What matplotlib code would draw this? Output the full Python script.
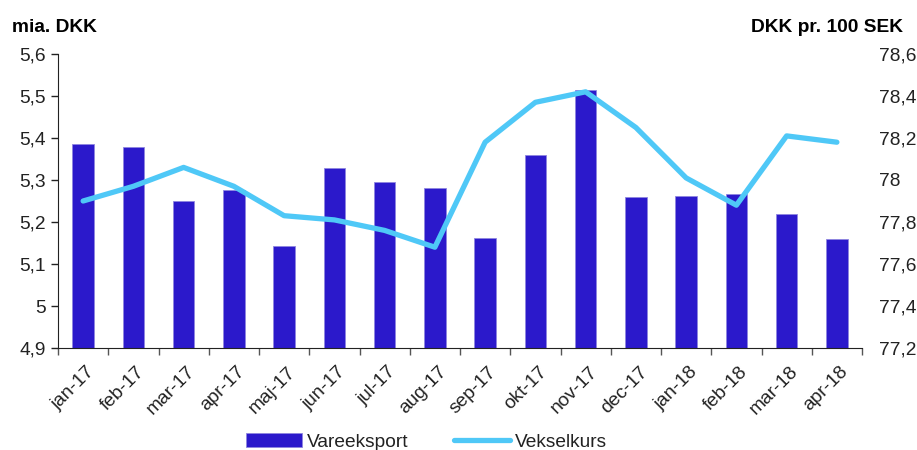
import matplotlib
matplotlib.use("Agg")
import matplotlib.pyplot as plt
from matplotlib.ticker import FixedLocator, NullFormatter
import matplotlib.transforms as mtransforms
import numpy as np

plt.rcParams['font.family'] = ['Liberation Sans', 'DejaVu Sans']

months = ["jan-17", "feb-17", "mar-17", "apr-17", "maj-17", "jun-17", "jul-17", "aug-17",
          "sep-17", "okt-17", "nov-17", "dec-17", "jan-18", "feb-18", "mar-18", "apr-18"]
vareeksport = [5.385, 5.379, 5.249, 5.275, 5.142, 5.328, 5.295, 5.280,
               5.161, 5.359, 5.514, 5.259, 5.261, 5.266, 5.220, 5.159]
vekselkurs = [77.90, 77.97, 78.06, 77.97, 77.83, 77.81, 77.76, 77.68,
              78.18, 78.37, 78.42, 78.25, 78.01, 77.88, 78.21, 78.18]
left_ticks = [4.9, 5.0, 5.1, 5.2, 5.3, 5.4, 5.5, 5.6]
left_labels = ["4,9", "5", "5,1", "5,2", "5,3", "5,4", "5,5", "5,6"]
right_ticks = [77.2, 77.4, 77.6, 77.8, 78.0, 78.2, 78.4, 78.6]
right_labels = ["77,2", "77,4", "77,6", "77,8", "78", "78,2", "78,4", "78,6"]

bar_color = "#2B19CB"
line_color = "#4FC8F7"
text_color = "#222222"
fs = 13.8

fig = plt.figure(figsize=(9.17, 4.5), dpi=100)
ax = fig.add_axes([58/917, 1-348/450, (862-58)/917, (348-54)/450])
x = np.arange(len(months))
ax.bar(x, np.array(vareeksport) - 4.9, bottom=4.9, width=0.43, color=bar_color,
       edgecolor="#8f86e0", linewidth=0.6, label="Vareeksport", zorder=2)
ax.set_xlim(-0.5, len(months) - 0.5)
ax.set_ylim(4.9, 5.6)
ax.set_yticks(left_ticks)
ax.set_yticklabels(left_labels, fontsize=fs, color=text_color)
ax.tick_params(axis='y', length=5, width=1, pad=4, color="#222222")
ax.xaxis.set_major_locator(FixedLocator(np.arange(-0.5, len(months), 1.0)))
ax.xaxis.set_major_formatter(NullFormatter())
ax.xaxis.set_minor_locator(FixedLocator(x))
ax.set_xticklabels(months, minor=True, rotation=45, ha='right', va='top',
                   rotation_mode='anchor', fontsize=fs, color=text_color)
ax.tick_params(axis='x', which='major', length=5, width=1, color="#555555")
ax.tick_params(axis='x', which='minor', length=0, pad=11)
for s in ["top", "right"]:
    ax.spines[s].set_visible(False)
ax.spines["left"].set_color("#222222")
ax.spines["bottom"].set_color("#222222")

ax2 = ax.twinx()
ax2.plot(x, vekselkurs, color=line_color, linewidth=3.8, solid_capstyle='round',
         label="Vekselkurs", zorder=3)
ax2.set_ylim(77.2, 78.6)
ax2.set_yticks(right_ticks)
ax2.set_yticklabels(right_labels, fontsize=fs, color=text_color)
ax2.tick_params(axis='y', length=0, pad=12)
for s in ["top", "right", "left", "bottom"]:
    ax2.spines[s].set_visible(False)

offset = mtransforms.ScaledTranslation(3/100, 0, fig.dpi_scale_trans)
for lbl in ax.get_xticklabels(minor=True):
    lbl.set_transform(lbl.get_transform() + offset)

fig.text(12/917, 1-27/450, "mia. DKK", fontsize=fs, fontweight='bold', color="#000000",
         ha='left', va='center')
fig.text(903/917, 1-27/450, "DKK pr. 100 SEK", fontsize=fs, fontweight='bold',
         color="#000000", ha='right', va='center')

h1, l1 = ax.get_legend_handles_labels()
h2, l2 = ax2.get_legend_handles_labels()
leg = fig.legend(h1 + h2, l1 + l2, loc='center', bbox_to_anchor=(0.465, 1-442/450), ncol=2,
                 frameon=False, fontsize=fs, handlelength=2.9, handleheight=0.75,
                 columnspacing=2.4, handletextpad=0.25, labelcolor=text_color)

fig.savefig("out.png", dpi=100)
